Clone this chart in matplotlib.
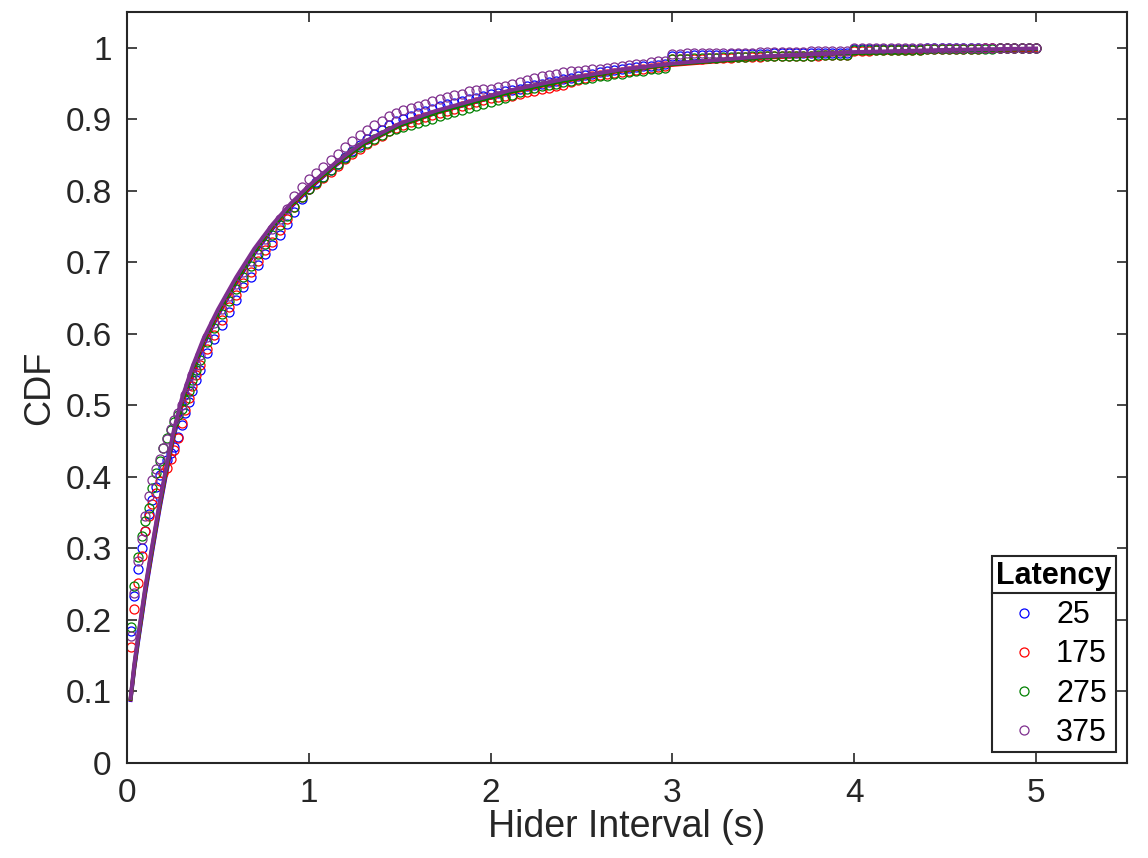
import numpy as np
import matplotlib.pyplot as plt
from matplotlib.lines import Line2D

plt.rcParams['font.family'] = ['Liberation Sans', 'DejaVu Sans']

# sample times of the empirical CDFs (s)
t_early = np.round(np.arange(0.02, 0.41, 0.02), 2)
t_late = np.round(np.arange(0.44, 5.01, 0.04), 2)
t = np.concatenate([t_early, t_late])

latency = ['25', '175', '275', '375']

cdf_25 = [0.185, 0.234, 0.271, 0.300, 0.325, 0.348, 0.368, 0.386, 0.402, 0.414,
          0.424, 0.433, 0.442, 0.456, 0.472, 0.489, 0.505, 0.520, 0.535, 0.549,
          0.573, 0.593, 0.613, 0.631, 0.648, 0.665, 0.680, 0.696, 0.711, 0.724,
          0.738, 0.754, 0.770, 0.788, 0.803, 0.812, 0.820, 0.829, 0.838, 0.847,
          0.856, 0.864, 0.872, 0.879, 0.885, 0.892, 0.897, 0.901, 0.905, 0.909,
          0.912, 0.915, 0.918, 0.921, 0.923, 0.926, 0.928, 0.930, 0.932, 0.935,
          0.937, 0.939, 0.941, 0.943, 0.946, 0.948, 0.950, 0.952, 0.954, 0.956,
          0.958, 0.960, 0.962, 0.964, 0.966, 0.967, 0.969, 0.970, 0.972, 0.973,
          0.974, 0.975, 0.976, 0.977,
          0.989, 0.989, 0.989, 0.990, 0.990, 0.990, 0.990, 0.990, 0.991, 0.991,
          0.991, 0.991, 0.991, 0.991, 0.992, 0.992, 0.992, 0.992, 0.992, 0.992,
          0.993, 0.993, 0.993, 0.993, 0.993,
          0.998, 0.998, 0.998, 0.998, 0.998, 0.998, 0.998, 0.998, 0.998, 0.998,
          0.999, 0.999, 0.999, 0.999, 0.999, 0.999, 0.999, 0.999, 0.999, 0.999,
          0.999, 0.999, 1.000, 1.000, 1.000, 1.000]

cdf_175 = [0.162, 0.216, 0.251, 0.290, 0.325, 0.345, 0.362, 0.378, 0.394, 0.405,
           0.413, 0.425, 0.438, 0.455, 0.476, 0.494, 0.511, 0.527, 0.542, 0.556,
           0.579, 0.599, 0.619, 0.637, 0.654, 0.671, 0.686, 0.702, 0.717, 0.729,
           0.745, 0.761, 0.777, 0.792, 0.802, 0.809, 0.818, 0.826, 0.835, 0.844,
           0.852, 0.859, 0.865, 0.871, 0.877, 0.883, 0.888, 0.892, 0.896, 0.900,
           0.903, 0.906, 0.909, 0.912, 0.915, 0.919, 0.922, 0.924, 0.927, 0.930,
           0.931, 0.932, 0.933, 0.935, 0.938, 0.940, 0.942, 0.944, 0.946, 0.948,
           0.952, 0.955, 0.958, 0.960, 0.962, 0.963, 0.965, 0.966, 0.968, 0.969,
           0.970, 0.972, 0.973, 0.974,
           0.984, 0.984, 0.985, 0.985, 0.985, 0.986, 0.986, 0.986, 0.986, 0.987,
           0.987, 0.987, 0.987, 0.988, 0.988, 0.988, 0.988, 0.989, 0.989, 0.989,
           0.989, 0.990, 0.990, 0.990, 0.990,
           0.996, 0.996, 0.996, 0.997, 0.997, 0.997, 0.997, 0.997, 0.997, 0.997,
           0.998, 0.998, 0.998, 0.998, 0.998, 0.998, 0.998, 0.998, 0.999, 0.999,
           0.999, 0.999, 0.999, 0.999, 1.000, 1.000]

cdf_275 = [0.190, 0.248, 0.288, 0.318, 0.339, 0.357, 0.385, 0.405, 0.422, 0.440,
           0.454, 0.466, 0.477, 0.486, 0.495, 0.507, 0.520, 0.535, 0.550, 0.564,
           0.588, 0.608, 0.628, 0.646, 0.663, 0.680, 0.695, 0.711, 0.726, 0.738,
           0.752, 0.765, 0.778, 0.791, 0.802, 0.811, 0.820, 0.829, 0.838, 0.846,
           0.854, 0.861, 0.867, 0.873, 0.878, 0.883, 0.886, 0.889, 0.892, 0.895,
           0.898, 0.901, 0.904, 0.907, 0.910, 0.913, 0.916, 0.918, 0.921, 0.924,
           0.927, 0.930, 0.934, 0.938, 0.942, 0.944, 0.946, 0.948, 0.950, 0.952,
           0.954, 0.956, 0.957, 0.958, 0.960, 0.961, 0.963, 0.964, 0.966, 0.967,
           0.968, 0.970, 0.971, 0.972,
           0.985, 0.985, 0.985, 0.986, 0.986, 0.986, 0.986, 0.987, 0.987, 0.987,
           0.987, 0.988, 0.988, 0.988, 0.988, 0.988, 0.989, 0.989, 0.989, 0.989,
           0.990, 0.990, 0.990, 0.990, 0.990,
           0.997, 0.997, 0.997, 0.997, 0.997, 0.997, 0.997, 0.997, 0.997, 0.997,
           0.998, 0.998, 0.998, 0.998, 0.998, 0.998, 0.998, 0.998, 0.998, 0.998,
           0.999, 0.999, 0.999, 0.999, 1.000, 1.000]

cdf_375 = [0.178, 0.238, 0.282, 0.313, 0.346, 0.374, 0.395, 0.411, 0.425, 0.440,
           0.453, 0.467, 0.479, 0.490, 0.501, 0.514, 0.528, 0.542, 0.556, 0.570,
           0.595, 0.615, 0.635, 0.653, 0.670, 0.687, 0.702, 0.718, 0.733, 0.746,
           0.760, 0.774, 0.793, 0.806, 0.817, 0.825, 0.834, 0.843, 0.852, 0.861,
           0.870, 0.878, 0.885, 0.892, 0.898, 0.904, 0.909, 0.913, 0.916, 0.919,
           0.922, 0.925, 0.928, 0.931, 0.934, 0.936, 0.939, 0.941, 0.942, 0.943,
           0.945, 0.947, 0.950, 0.952, 0.955, 0.958, 0.960, 0.962, 0.964, 0.966,
           0.967, 0.968, 0.969, 0.970, 0.971, 0.972, 0.973, 0.975, 0.976, 0.977,
           0.978, 0.980, 0.981, 0.982,
           0.991, 0.991, 0.992, 0.992, 0.992, 0.992, 0.993, 0.993, 0.993, 0.993,
           0.993, 0.993, 0.994, 0.994, 0.994, 0.994, 0.994, 0.994, 0.994, 0.995,
           0.995, 0.995, 0.995, 0.995, 0.995,
           0.999, 0.999, 0.999, 0.999, 0.999, 0.999, 0.999, 0.999, 0.999, 0.999,
           0.999, 0.999, 0.999, 0.999, 0.999, 0.999, 0.999, 0.999, 0.999, 0.999,
           1.000, 1.000, 1.000, 1.000, 1.000, 1.000]

# fitted curves
fit_t = [0.02, 0.04, 0.06, 0.08, 0.10, 0.14, 0.18, 0.22, 0.26, 0.30, 0.36,
         0.42, 0.50, 0.60, 0.70, 0.80, 0.90, 1.00, 1.15, 1.30, 1.50, 1.70,
         1.90, 2.10, 2.40, 2.70, 3.00, 3.50, 4.00, 4.50, 5.00]
fit_25 = [0.088, 0.131, 0.167, 0.201, 0.236, 0.297, 0.356, 0.410, 0.459, 0.499,
          0.545, 0.584, 0.626, 0.671, 0.712, 0.747, 0.777, 0.802, 0.836, 0.865,
          0.891, 0.909, 0.923, 0.938, 0.954, 0.968, 0.977, 0.987, 0.993, 0.996, 0.998]
fit_175 = [0.089, 0.133, 0.170, 0.204, 0.239, 0.300, 0.359, 0.413, 0.462, 0.502,
           0.548, 0.587, 0.628, 0.673, 0.714, 0.749, 0.778, 0.803, 0.837, 0.865,
           0.891, 0.909, 0.923, 0.937, 0.953, 0.967, 0.976, 0.986, 0.992, 0.995, 0.997]
fit_275 = [0.090, 0.135, 0.172, 0.207, 0.242, 0.303, 0.362, 0.416, 0.465, 0.505,
           0.551, 0.590, 0.631, 0.676, 0.716, 0.751, 0.780, 0.805, 0.838, 0.866,
           0.892, 0.910, 0.924, 0.938, 0.954, 0.968, 0.977, 0.987, 0.993, 0.996, 0.998]
fit_375 = [0.091, 0.138, 0.175, 0.210, 0.245, 0.306, 0.365, 0.419, 0.468, 0.508,
           0.554, 0.593, 0.634, 0.679, 0.719, 0.753, 0.782, 0.807, 0.840, 0.868,
           0.894, 0.912, 0.926, 0.940, 0.956, 0.969, 0.978, 0.988, 0.994, 0.997, 0.999]

cdfs = [cdf_25, cdf_175, cdf_275, cdf_375]
fits = [fit_25, fit_175, fit_275, fit_375]
colors = ['#0000ff', '#ff0000', '#008000', '#7e2f8e']

fig = plt.figure(figsize=(11.48, 8.58), dpi=100)
ax = fig.add_axes([0.1106, 0.1107, 0.8711, 0.8753])

handles = []
for lab, y, fy, c in zip(latency, cdfs, fits, colors):
    assert len(y) == len(t)
    h, = ax.plot(t, y, 'o', mfc='none', mec=c, ms=6.5, mew=0.9, label=lab)
    ax.plot(fit_t, fy, '-', color=c, lw=2.8)
    handles.append(h)

ax.set_xlim(0, 5.5)
ax.set_ylim(0, 1.05)
ax.set_xticks([0, 1, 2, 3, 4, 5])
yt = np.round(np.arange(0, 1.01, 0.1), 1)
ax.set_yticks(yt)
ax.set_yticklabels(['0' if v == 0 else ('1' if v == 1 else str(v)) for v in yt])
ax.tick_params(direction='in', length=7, width=1.2, top=True, right=True,
               labelsize=24, colors='#262626', labelcolor='#262626', pad=11)
for s in ax.spines.values():
    s.set_linewidth(1.5)
    s.set_color('#262626')

ax.set_xlabel('Hider Interval (s)', fontsize=27, color='#262626', labelpad=0)
ax.set_ylabel('CDF', fontsize=26, color='#262626', labelpad=6)

leg = ax.legend(handles=handles, title='Latency', loc='lower right',
                fontsize=22, title_fontproperties={'weight': 'bold', 'size': 22},
                fancybox=False, framealpha=1, edgecolor='#262626',
                handlelength=1.5, handletextpad=0.3, labelspacing=0.3,
                borderpad=0.15, borderaxespad=0.35)
leg.get_frame().set_linewidth(1.5)

# separator line under the legend title
fig.canvas.draw()
r = fig.canvas.get_renderer()
fb = leg.get_frame().get_window_extent(r)
tb = leg.get_title().get_window_extent(r)
ysep = tb.y0 - 2
inv = fig.transFigure.inverted()
(x0, y0), (x1, y1) = inv.transform([(fb.x0, ysep), (fb.x1, ysep)])
fig.add_artist(Line2D([x0, x1], [y0, y1], color='#262626', lw=1.5,
                      transform=fig.transFigure))

plt.savefig('out.png', dpi=100)
